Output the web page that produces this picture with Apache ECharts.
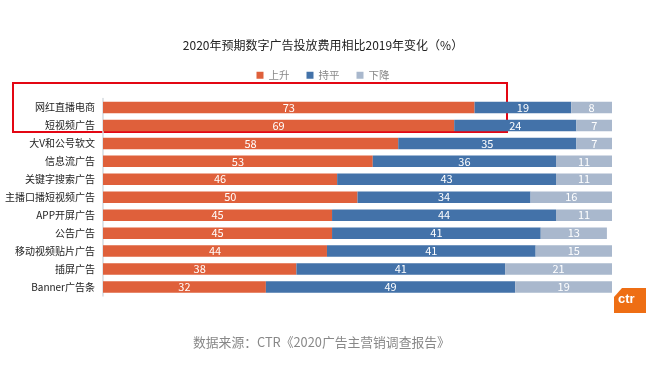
<!DOCTYPE html>
<html><head><meta charset="utf-8">
<script src="https://cdn.jsdelivr.net/npm/echarts@6/dist/echarts.min.js"></script>
<style>html,body{margin:0;padding:0;background:#fff}#c{width:646px;height:386px}</style>
</head><body><div id="c"></div>
<script>
const categories = ['网红直播电商','短视频广告','大V和公号软文','信息流广告','关键字搜索广告','主播口播短视频广告','APP开屏广告','公告广告','移动视频贴片广告','插屏广告','Banner广告条'];
const up = [73,69,58,53,46,50,45,45,44,38,32];
const flat = [19,24,35,36,43,34,44,41,41,41,49];
const down = [8,7,7,11,11,16,11,13,15,21,19];
const seriesNames = ['上升','持平','下降'];
const colors = ['#DF603B','#4372A9','#A9B8CD'];

const chart = echarts.init(document.getElementById('c'));
const font = '"Microsoft YaHei","Noto Sans CJK SC",sans-serif';
const mk = (name, data, i) => ({
  name, type:'bar', stack:'s', data, barWidth:'64%',
  itemStyle:{color:colors[i]},
  label:{show:true, position:'inside', color:'#fff', fontSize:11, fontFamily:font},
  emphasis:{disabled:true}
});
chart.setOption({
  animation:false,
  title:{text:'2020年预期数字广告投放费用相比2019年变化（%）', left:'center', top:34,
    textStyle:{fontSize:12, fontWeight:'normal', color:'#222', fontFamily:font}},
  legend:{top:65, left:'center', itemWidth:7, itemHeight:7, itemGap:17, icon:'rect',
    textStyle:{fontSize:10.5, color:'#888', fontFamily:font}, data:seriesNames},
  grid:{left:103, right:34, top:98.5, bottom:90, containLabel:false, outerBoundsMode:'none'},
  xAxis:{type:'value', min:0, max:100, show:false},
  yAxis:{type:'category', data:categories, inverse:true,
    axisLine:{lineStyle:{color:'#d6dbe0', width:1.5}}, axisTick:{show:false},
    axisLabel:{color:'#222', fontSize:10, fontFamily:font, margin:8}},
  series:[mk(seriesNames[0],up,0), mk(seriesNames[1],flat,1), mk(seriesNames[2],down,2)],
  graphic:[
    {type:'rect', shape:{x:13, y:83, width:494, height:49}, style:{fill:'none', stroke:'#E30613', lineWidth:2}},
    {type:'polygon', shape:{points:[[622,288],[646,288],[646,313],[614,313],[614,297]]}, style:{fill:'#EE6E14'}},
    {type:'text', style:{text:'ctr', x:618, y:293, fill:'#fff', font:'bold 13px sans-serif'}},
    {type:'text', style:{text:'数据来源：CTR《2020广告主营销调查报告》', x:193, y:336, fill:'#888', font:'12.8px '+font}}
  ]
});
</script></body></html>
